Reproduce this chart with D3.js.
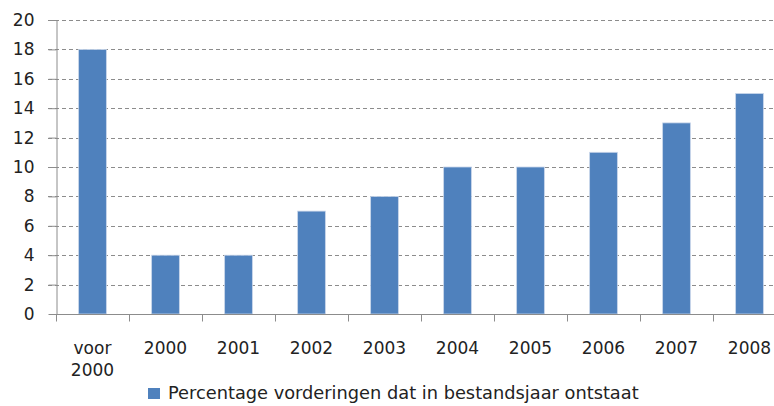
<!DOCTYPE html>
<html>
<head>
<meta charset="utf-8">
<script src="https://cdn.jsdelivr.net/npm/d3@7"></script>
<style>
  body { margin: 0; background: #fff; }
  svg text { font-family: "DejaVu Sans", sans-serif; fill: #222; }
</style>
</head>
<body>
<div id="chart-area"></div>
<script>
const categories = ["voor 2000", "2000", "2001", "2002", "2003", "2004", "2005", "2006", "2007", "2008"];
const values = [18, 4, 4, 7, 8, 10, 10, 11, 13, 15];
const yTicks = [0, 2, 4, 6, 8, 10, 12, 14, 16, 18, 20];
const seriesName = "Percentage vorderingen dat in bestandsjaar ontstaat";

const WIDTH = 774, HEIGHT = 406;
const MARGIN = { LEFT: 56, TOP: 20, RIGHT: 0, BOTTOM: 92 };
const plotW = 730;
const plotH = HEIGHT - MARGIN.TOP - MARGIN.BOTTOM;

const svg = d3.select("#chart-area")
  .append("svg")
    .attr("width", WIDTH)
    .attr("height", HEIGHT);

const g = svg.append("g")
  .attr("transform", `translate(${MARGIN.LEFT}, ${MARGIN.TOP})`);

const x = d3.scaleBand()
  .domain(categories)
  .range([0, plotW])
  .paddingInner(0.62)
  .paddingOuter(0.31);

const xb = d3.scaleBand().domain(categories).range([0, plotW]);

const y = d3.scaleLinear()
  .domain([0, 20])
  .range([plotH, 0]);

// grid lines
g.append("g")
  .selectAll("line")
  .data(yTicks.filter(d => d > 0))
  .enter()
  .append("line")
    .attr("x1", -8)
    .attr("x2", plotW)
    .attr("y1", d => Math.round(y(d)) + 0.5)
    .attr("y2", d => Math.round(y(d)) + 0.5)
    .attr("stroke", "#8c8c8c")
    .attr("stroke-dasharray", "4,3");

// bars
g.selectAll("rect.bar")
  .data(values)
  .enter()
  .append("rect")
    .attr("class", "bar")
    .attr("x", (d, i) => x(categories[i]))
    .attr("y", d => y(d))
    .attr("width", x.bandwidth())
    .attr("height", d => plotH - y(d))
    .attr("fill", "#4F81BD")
    .attr("stroke", "#c9d6ea")
    .attr("stroke-width", 0.8);

// y axis
const yAxis = g.append("g")
  .attr("transform", "translate(0.5,0)")
  .call(d3.axisLeft(y).tickValues(yTicks).tickSize(8).tickSizeOuter(0));
yAxis.select(".domain").attr("stroke", "#8c8c8c");
yAxis.selectAll(".tick line").attr("stroke", "#8c8c8c");
yAxis.selectAll(".tick text")
  .attr("x", -22)
  .attr("font-size", "17px")
  .attr("font-family", "DejaVu Sans, sans-serif")
  .attr("fill", "#222");

// x axis
const xAxis = g.append("g")
  .attr("transform", `translate(0, ${Math.round(plotH) + 0.5})`);
xAxis.append("line")
  .attr("x1", 0).attr("x2", plotW)
  .attr("stroke", "#8c8c8c");
xAxis.selectAll("line.tick")
  .data(categories)
  .enter()
  .append("line")
    .attr("class", "tick")
    .attr("x1", d => Math.round(xb(d)) + 0.5)
    .attr("x2", d => Math.round(xb(d)) + 0.5)
    .attr("y1", 0).attr("y2", 7)
    .attr("stroke", "#8c8c8c");

const lbl = xAxis.selectAll("text")
  .data(categories)
  .enter()
  .append("text")
    .attr("text-anchor", "middle")
    .attr("font-size", "17px")
    .attr("y", 39);
lbl.each(function (d) {
  const words = d.split(" ");
  const cx = xb(d) + xb.bandwidth() / 2;
  const t = d3.select(this);
  words.forEach((w, i) => {
    t.append("tspan")
      .attr("x", cx)
      .attr("dy", i === 0 ? 0 : 22)
      .text(w);
  });
});

// legend
const legend = svg.append("g")
  .attr("transform", "translate(148, 388)");
legend.append("rect")
  .attr("width", 12).attr("height", 11)
  .attr("y", 0)
  .attr("fill", "#4F81BD");
legend.append("text")
  .attr("x", 20)
  .attr("y", 11)
  .attr("font-size", "17.8px")
  .text(seriesName);
</script>
</body>
</html>
